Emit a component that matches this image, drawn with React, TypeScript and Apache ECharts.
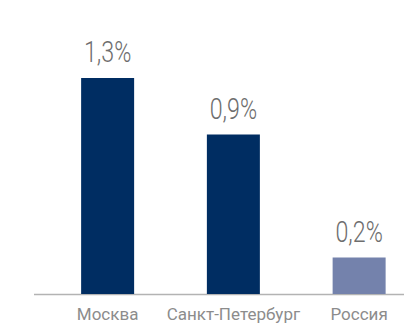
import React, { useEffect, useRef } from "react";
import * as echarts from "echarts";

const categories = ["Москва", "Санкт-Петербург", "Россия"];
const values = [1.3, 0.96, 0.22];
const valueLabels = ["1,3%", "0,9%", "0,2%"];
const barColors = ["#002d62", "#002d62", "#7482ac"];

export default function App() {
  const ref = useRef<HTMLDivElement>(null);
  useEffect(() => {
    document.body.style.margin = "0";
    document.body.style.overflow = "hidden";
    if (!ref.current) return;
    const chart = echarts.init(ref.current, undefined, { renderer: "svg" });
    chart.setOption({
      animation: false,
      grid: { left: 44.75, right: 0, top: 78, bottom: 30 },
      xAxis: {
        type: "category",
        data: categories,
        axisLine: { show: false },
        axisTick: { show: false },
        axisLabel: {
          color: "#8c8c8c",
          fontFamily: "Roboto",
          fontSize: 17,
          margin: 11,
          interval: 0,
        },
      },
      yAxis: {
        type: "value",
        min: 0,
        max: 1.3,
        show: false,
        splitLine: { show: false },
      },
      graphic: [
        {
          type: "line",
          shape: { x1: 34, y1: 294.5, x2: 404, y2: 294.5 },
          style: { stroke: "#b3b3b3", lineWidth: 1.5 },
          z: 1,
        },
      ],
      series: [
        {
          type: "bar",
          data: values.map((v, i) => ({ value: v, itemStyle: { color: barColors[i] } })),
          barWidth: 53,
          z: 2,
        },
        {
          type: "custom",
          data: values.map((v, i) => [i, v]),
          z: 3,
          renderItem: (params: any, api: any) => {
            const pt = api.coord([api.value(0), api.value(1)]);
            return {
              type: "text",
              x: pt[0],
              y: pt[1] - 11,
              scaleX: 0.8,
              style: {
                text: valueLabels[params.dataIndex],
                fill: "#6e6e6e",
                fontFamily: "Roboto",
                fontWeight: 300,
                fontSize: 29,
                align: "center",
                verticalAlign: "bottom",
              },
            };
          },
        },
      ],
    });
    return () => chart.dispose();
  }, []);
  return <div ref={ref} style={{ width: 422, height: 324 }} />;
}
